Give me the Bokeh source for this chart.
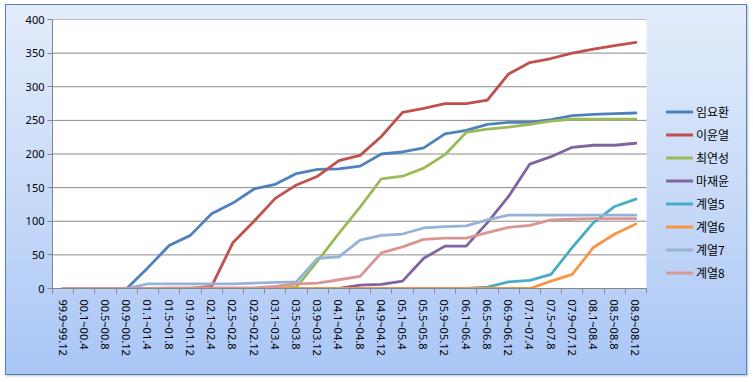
from bokeh.plotting import figure
from bokeh.models import FixedTicker, Legend, LegendItem, Range1d, BoxAnnotation
from bokeh.embed import file_html
from bokeh.resources import INLINE

categories = ["99.9~99.12", "00.1~00.4", "00.5~00.8", "00.9~00.12", "01.1~01.4", "01.5~01.8",
              "01.9~01.12", "02.1~02.4", "02.5~02.8", "02.9~02.12", "03.1~03.4", "03.5~03.8",
              "03.9~03.12", "04.1~04.4", "04.5~04.8", "04.9~04.12", "05.1~05.4", "05.5~05.8",
              "05.9~05.12", "06.1~06.4", "06.5~06.8", "06.9~06.12", "07.1~07.4", "07.5~07.8",
              "07.9~07.12", "08.1~08.4", "08.5~08.8", "08.9~08.12"]

series_names = ["임요환", "이윤열", "최연성", "마재윤", "계열5", "계열6", "계열7", "계열8"]

s_lim = [0, 0, 0, 0, 31, 64, 79, 111, 127, 148, 155, 171, 177, 178, 182, 200, 203, 209, 230, 235,
         244, 247, 247, 251, 257, 259, 260, 261]
s_lee = [0, 0, 0, 0, 0, 0, 0, 3, 68, 100, 134, 154, 167, 190, 198, 226, 262, 268, 275, 275,
         280, 319, 336, 342, 350, 356, 361, 366]
s_choi = [0, 0, 0, 0, 0, 0, 0, 0, 0, 0, 0, 2, 41, 82, 121, 163, 167, 179, 199, 232,
          237, 240, 244, 249, 252, 252, 252, 252]
s_ma = [0, 0, 0, 0, 0, 0, 0, 0, 0, 0, 0, 0, 0, 0, 5, 6, 11, 45, 63, 63,
        98, 137, 185, 196, 210, 213, 213, 216]
s_5 = [0, 0, 0, 0, 0, 0, 0, 0, 0, 0, 0, 0, 0, 0, 0, 0, 0, 0, 0, 0,
       2, 10, 12, 21, 61, 98, 122, 133]
s_6 = [0, 0, 0, 0, 0, 0, 0, 0, 0, 0, 0, 0, 0, 0, 0, 0, 0, 0, 0, 0,
       0, 0, 0, 11, 21, 61, 81, 96]
s_7 = [0, 0, 0, 0, 7, 7, 7, 7, 7, 8, 9, 10, 45, 47, 72, 79, 81, 90, 92, 93,
       102, 109, 109, 109, 109, 109, 109, 109]
s_8 = [0, 0, 0, 0, 0, 1, 1, 1, 1, 1, 3, 7, 8, 13, 18, 53, 62, 73, 75, 75,
       83, 91, 94, 102, 103, 104, 104, 104]

y_ticks = [0, 50, 100, 150, 200, 250, 300, 350, 400]

all_series = [s_lim, s_lee, s_choi, s_ma, s_5, s_6, s_7, s_8]
colors = ["#4F81BD", "#C0504D", "#9BBB59", "#8064A2", "#4BACC6", "#F79646", "#95B3D7", "#D99694"]

xs = list(range(len(categories)))
n = len(categories)
x_lo, x_hi = -0.5, n - 0.5

# plot-area layout (pixels): data area 594 px wide, extra 95 px on the right for the legend
data_px = 594
extra_px = 95
x_end = x_hi + extra_px * (x_hi - x_lo) / data_px

p = figure(frame_width=data_px + extra_px, frame_height=269, output_backend="svg",
           toolbar_location=None,
           x_range=Range1d(x_lo, x_end), y_range=Range1d(0, 400),
           min_border_left=47, min_border_right=6, min_border_top=15, min_border_bottom=87)

p.styles = {"background": "linear-gradient(to bottom, #E3ECFB 0%, #C9DBF8 50%, #A9C6F6 100%)",
            "box-shadow": "inset 0 0 0 1px #4F81BD, 1px 1px 2px rgba(0,0,0,0.25)",
            "margin-left": "5px", "margin-top": "4px"}
p.border_fill_color = None
p.background_fill_color = None
p.outline_line_color = None

# white plot area covering only the data region
p.add_layout(BoxAnnotation(left=x_lo, right=x_hi, bottom=0, top=400,
                           fill_color="white", fill_alpha=1.0, line_color=None, level="image"))

# horizontal gridlines limited to the data region
p.segment(x0=[x_lo] * len(y_ticks), x1=[x_hi] * len(y_ticks), y0=y_ticks, y1=y_ticks,
          line_color="#8A8A8A", line_width=1)

items = []
for name, data, c in zip(series_names, all_series, colors):
    r = p.line(xs, data, line_color=c, line_width=2.8, line_join="round", line_cap="round")
    items.append(LegendItem(label=name, renderers=[r]))

# x axis
p.xaxis.bounds = (x_lo, x_hi)
p.xaxis.ticker = FixedTicker(ticks=xs, minor_ticks=[i - 0.5 for i in range(n + 1)])
p.xaxis.major_label_overrides = {i: c for i, c in enumerate(categories)}
p.xaxis.major_label_orientation = "vertical"
p.xaxis.major_tick_line_color = None
p.xaxis.major_tick_out = 5
p.xaxis.major_tick_in = 0
p.xaxis.minor_tick_line_color = "#868686"
p.xaxis.minor_tick_out = 5
p.xaxis.minor_tick_in = 0
p.xaxis.axis_line_color = "#868686"
p.xaxis.major_label_standoff = 6
p.xaxis.major_label_text_font = "Noto Sans"
p.xaxis.major_label_text_font_size = "11px"
p.xaxis.major_label_text_color = "#000000"

# y axis
p.yaxis.ticker = FixedTicker(ticks=y_ticks)
p.yaxis.minor_tick_line_color = None
p.yaxis.major_tick_line_color = "#868686"
p.yaxis.major_tick_out = 5
p.yaxis.major_tick_in = 0
p.yaxis.axis_line_color = "#868686"
p.yaxis.major_label_standoff = 3
p.yaxis.major_label_text_font = "Noto Sans"
p.yaxis.major_label_text_font_size = "11px"
p.yaxis.major_label_text_color = "#000000"

p.xgrid.grid_line_color = None
p.ygrid.grid_line_color = None

legend = Legend(items=items, location=(data_px + 20, 4), orientation="vertical",
                glyph_width=27, glyph_height=23, label_height=23, spacing=0,
                padding=0, margin=0, label_standoff=3,
                label_text_font="Noto Sans CJK KR", label_text_font_size="12px",
                label_text_color="#000000",
                border_line_color=None, background_fill_color=None, background_fill_alpha=0)
p.add_layout(legend, "center")

open("out.html", "w").write(file_html(p, INLINE))
